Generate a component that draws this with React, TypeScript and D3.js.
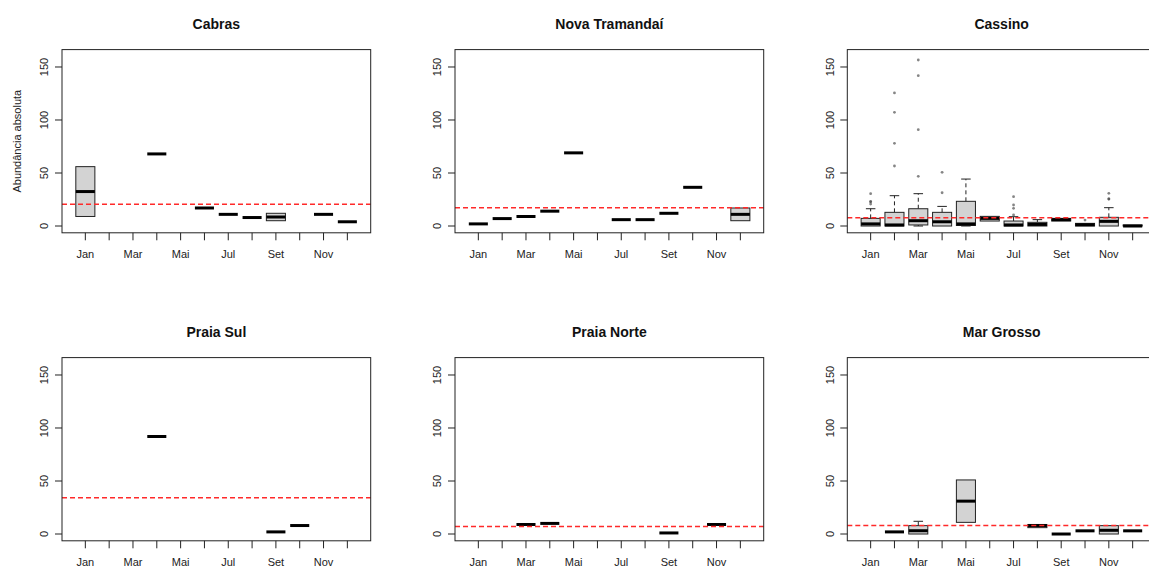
import React from "react";
import * as d3 from "d3";

// box stats per month: [lower whisker, q1, median, q3, upper whisker]
type Box = number[] | null;
const one = (x: number): Box => [x, x, x, x, x];

const months = ["Jan", "Fev", "Mar", "Abr", "Mai", "Jun", "Jul", "Ago", "Set", "Out", "Nov", "Dez"];
const yTicks = [0, 50, 100, 150];

const cabras: Box[] = [
  [9, 9, 32.5, 56, 56], null, null, one(68), null, one(17),
  one(11), one(8), [5, 5, 8.5, 12, 12], null, one(11), one(4),
];
const novaTramandai: Box[] = [
  one(2), one(7), one(9), one(14), one(69), null,
  one(6), one(6), one(12), one(36.5), null, [5, 5, 11, 17, 17],
];
const cassino: Box[] = [
  [0, 0, 2, 7.2, 16.3], [0, 0, 1, 12.9, 28.6], [0, 1, 5, 16.3, 30.5], [0, 0, 4, 12.9, 18.5],
  [0, 0.5, 2, 23.3, 44.3], [4.7, 4.7, 7.2, 9.1, 9.1], [0, 0, 1, 4.7, 8.8], [0, 0, 1.5, 3.5, 6],
  [4.7, 4.7, 6, 7.2, 7.2], [0, 0, 1.2, 2.5, 2.5], [0, 0, 4.4, 8.2, 17.3], [0, 0, 0, 1, 1],
];
const cassinoOutliers: number[][] = [
  [20.7, 23, 23, 30.5], [56.6, 78, 107.2, 125.5], [46.9, 90.9, 141.8, 156.6], [31.4, 50.6],
  [], [], [10.4, 16.7, 19.8, 27.7], [], [], [5.6], [25.5, 25.5, 30.8], [],
];
const praiaSul: Box[] = [
  null, null, null, one(92), null, null, null, null, one(2), one(8), null, null,
];
const praiaNorte: Box[] = [
  null, null, one(9), one(10), null, null, null, null, one(1), null, one(9), null,
];
const marGrosso: Box[] = [
  null, one(2), [0, 0, 3.1, 7.9, 12], null, [11, 11, 31, 51, 51], null,
  null, [6, 6, 8, 9, 9], one(0), one(3), [0, 0, 3.5, 7.9, 7.9], one(3),
];

const titles = ["Cabras", "Nova Tramandaí", "Cassino", "Praia Sul", "Praia Norte", "Mar Grosso"];
const boxes = [cabras, novaTramandai, cassino, praiaSul, praiaNorte, marGrosso];
const outliers: (number[][] | null)[] = [null, null, cassinoOutliers, null, null, null];
const means = [20.5, 17.3, 7.9, 34.3, 7, 8];

const colLeft = [62, 455, 847.3];
const rowTop = [49.6, 357.6];
const plotW = 308.7;
const plotH = 183.2;
const font = "'Liberation Sans', Arial, sans-serif";

function Panel({ idx }: { idx: number }) {
  const left = colLeft[idx % 3];
  const top = rowTop[Math.floor(idx / 3)];
  const bottom = top + plotH;
  const x = d3.scaleLinear().domain([0.02, 12.98]).range([left, left + plotW]);
  const y = d3.scaleLinear().domain([-6.4, 166.4]).range([bottom, top]);
  const bw = (x(1.4) - x(0.6));
  const data = boxes[idx];
  const outs = outliers[idx];

  return (
    <g>
      <text x={left + plotW / 2} y={top - 20.5} textAnchor="middle" fontWeight="bold" fontSize={14} fill="#111">
        {titles[idx]}
      </text>
      {/* boxes */}
      {data.map((b, i) => {
        if (!b) return null;
        const cx = x(i + 1);
        const [lo, q1, med, q3, hi] = b;
        return (
          <g key={i}>
            {hi > q3 && (
              <line x1={cx} x2={cx} y1={y(q3)} y2={y(hi)} stroke="#222" strokeDasharray="4,3" />
            )}
            {lo < q1 && (
              <line x1={cx} x2={cx} y1={y(q1)} y2={y(lo)} stroke="#222" strokeDasharray="4,3" />
            )}
            {hi > q3 && <line x1={cx - bw / 4} x2={cx + bw / 4} y1={y(hi)} y2={y(hi)} stroke="#222" />}
            {lo < q1 && <line x1={cx - bw / 4} x2={cx + bw / 4} y1={y(lo)} y2={y(lo)} stroke="#222" />}
            <rect x={cx - bw / 2} y={y(q3)} width={bw} height={Math.max(0, y(q1) - y(q3))}
              fill="#d3d3d3" stroke="#222" strokeWidth={1} />
            <line x1={cx - bw / 2} x2={cx + bw / 2} y1={y(med)} y2={y(med)} stroke="#000" strokeWidth={3} />
          </g>
        );
      })}
      {outs &&
        outs.map((arr, i) =>
          arr.map((o, j) => (
            <circle key={`${i}-${j}`} cx={x(i + 1)} cy={y(o)} r={1.4} fill="#444" fillOpacity={0.65} />
          ))
        )}
      {/* mean line */}
      <line x1={left} x2={left + plotW} y1={y(means[idx])} y2={y(means[idx])}
        stroke="#ff2a2a" strokeWidth={1.5} strokeDasharray="5,3" />
      {/* frame */}
      <rect x={left} y={top} width={plotW} height={plotH} fill="none" stroke="#222" strokeWidth={1} />
      {/* y axis */}
      {yTicks.map((t) => (
        <g key={t}>
          <line x1={left - 7} x2={left} y1={y(t)} y2={y(t)} stroke="#222" />
          <text transform={`translate(${left - 13.7},${y(t)}) rotate(-90)`} textAnchor="middle"
            fontSize={11} fill="#222">
            {t}
          </text>
        </g>
      ))}
      {/* x axis */}
      {months.map((m, i) => (
        <g key={m}>
          <line x1={x(i + 1)} x2={x(i + 1)} y1={bottom} y2={bottom + 7.5} stroke="#222" />
          {i % 2 === 0 && (
            <text x={x(i + 1)} y={bottom + 25} textAnchor="middle" fontSize={11} fill="#222">
              {m}
            </text>
          )}
        </g>
      ))}
      {idx === 0 && (
        <text transform={`translate(20.5,${(top + bottom) / 2}) rotate(-90)`} textAnchor="middle"
          fontSize={11} fill="#222">
          Abundância absoluta
        </text>
      )}
    </g>
  );
}

export default function App() {
  return (
    <svg width={1149} height={568} fontFamily={font}
      style={{ position: "absolute", left: 0, top: 0, background: "#fff" }}>
      <rect width={1149} height={568} fill="#fff" />
      {titles.map((t, i) => (
        <Panel key={t} idx={i} />
      ))}
    </svg>
  );
}
